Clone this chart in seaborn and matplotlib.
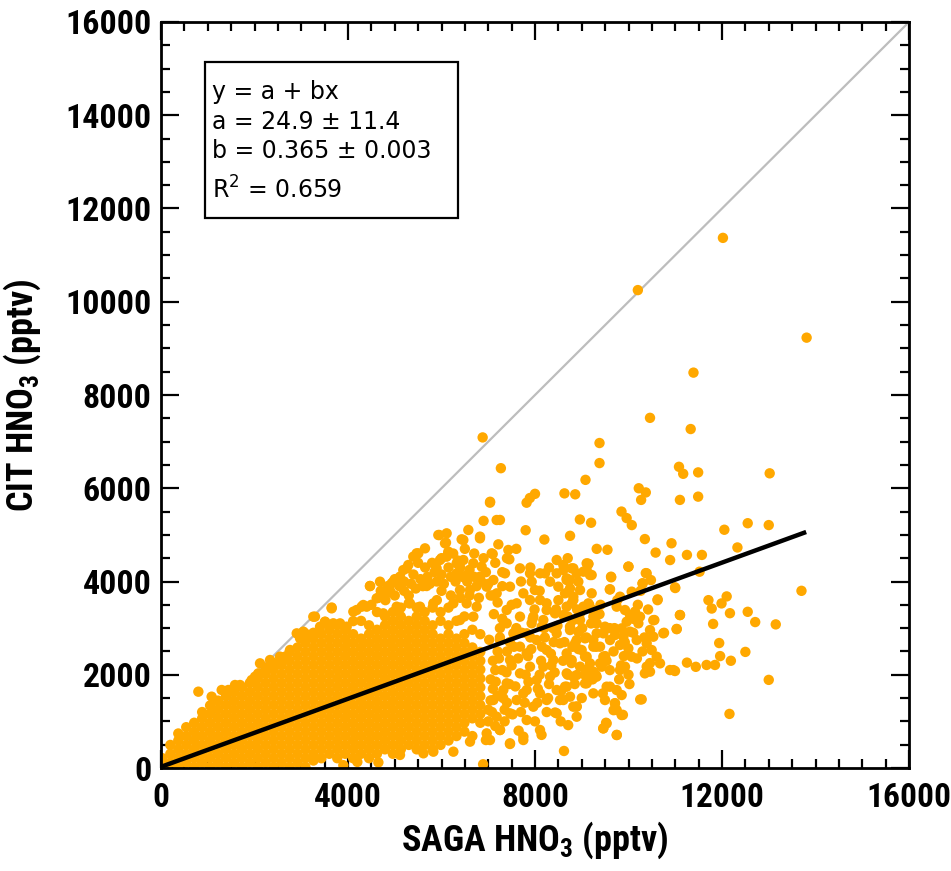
import matplotlib
matplotlib.use("Agg")
import matplotlib.pyplot as plt
from matplotlib import font_manager as fm
from matplotlib.font_manager import FontProperties
from matplotlib.patches import Rectangle
from matplotlib.ticker import MultipleLocator
import numpy as np
import pandas as pd
import seaborn as sns

# ---------------------------------------------------------------- data (pptv)
# densely packed bulk of the comparison: SAGA value -> CIT values
core_columns = [
    (30, [20, 210]),
    (200, [115, 305, 495]),
    (370, [20, 210, 400, 590, 740]),
    (540, [115, 305, 495, 685, 875]),
    (710, [20, 210, 400, 590, 780, 970]),
    (880, [115, 305, 495, 685, 875, 1065, 1200]),
    (1050, [20, 210, 400, 590, 780, 970, 1160, 1340]),
    (1220, [115, 305, 495, 685, 875, 1065, 1255, 1445]),
    (1390, [20, 210, 400, 590, 780, 970, 1160, 1350, 1540]),
    (1560, [115, 305, 495, 685, 875, 1065, 1255, 1445, 1635]),
    (1730, [20, 210, 400, 590, 780, 970, 1160, 1350, 1540, 1730]),
    (1900, [115, 305, 495, 685, 875, 1065, 1255, 1445, 1635, 1825]),
    (2070, [20, 210, 400, 590, 780, 970, 1160, 1350, 1540, 1730, 1920, 2000]),
    (2240, [115, 305, 495, 685, 875, 1065, 1255, 1445, 1635, 1825, 2015, 2150]),
    (2410, [20, 210, 400, 590, 780, 970, 1160, 1350, 1540, 1730, 1920, 2110, 2250]),
    (2580, [115, 305, 495, 685, 875, 1065, 1255, 1445, 1635, 1825, 2015, 2205, 2350]),
    (2750, [20, 210, 400, 590, 780, 970, 1160, 1350, 1540, 1730, 1920, 2110, 2300, 2490]),
    (2920, [115, 305, 495, 685, 875, 1065, 1255, 1445, 1635, 1825, 2015, 2205, 2395, 2585]),
    (3090, [20, 210, 400, 590, 780, 970, 1160, 1350, 1540, 1730, 1920, 2110, 2300, 2490, 2680, 2800]),
    (3260, [160, 305, 495, 685, 875, 1065, 1255, 1445, 1635, 1825, 2015, 2205, 2395, 2585, 2775, 2900]),
    (3430, [210, 400, 590, 780, 970, 1160, 1350, 1540, 1730, 1920, 2110, 2300, 2490, 2680, 2870]),
    (3600, [305, 495, 685, 875, 1065, 1255, 1445, 1635, 1825, 2015, 2205, 2395, 2585, 2775, 2965]),
    (3770, [210, 400, 590, 780, 970, 1160, 1350, 1540, 1730, 1920, 2110, 2300, 2490, 2680, 2870, 3060]),
    (3940, [305, 495, 685, 875, 1065, 1255, 1445, 1635, 1825, 2015, 2205, 2395, 2585, 2775, 2965]),
    (4110, [210, 400, 590, 780, 970, 1160, 1350, 1540, 1730, 1920, 2110, 2300, 2490, 2680, 2870, 3150]),
    (4280, [305, 495, 685, 875, 1065, 1255, 1445, 1635, 1825, 2015, 2205, 2395, 2585, 2775, 3155]),
    (4450, [210, 400, 590, 780, 970, 1160, 1350, 1540, 1730, 1920, 2110, 2300, 2490, 2680, 2870, 3060]),
    (4620, [305, 495, 685, 875, 1065, 1255, 1445, 1635, 1825, 2015, 2205, 2395, 2585, 2775, 2965, 3345]),
    (4790, [400, 590, 780, 970, 1160, 1350, 1540, 1730, 1920, 2110, 2300, 2490, 2680, 2870, 3060, 3250]),
    (4960, [305, 495, 685, 875, 1065, 1255, 1445, 1635, 1825, 2015, 2205, 2395, 2585, 2775, 2965, 3155, 3345]),
    (5130, [400, 590, 780, 970, 1160, 1350, 1540, 1730, 1920, 2110, 2300, 2490, 2680, 2870, 3060, 3250, 3440]),
    (5300, [495, 685, 875, 1065, 1255, 1445, 1635, 1825, 2015, 2205, 2395, 2585, 2775, 2965, 3155, 3535]),
    (5470, [400, 590, 780, 970, 1160, 1350, 1540, 1730, 1920, 2110, 2300, 2490, 2680, 2870, 3060, 3250, 3440]),
    (5640, [495, 685, 875, 1065, 1255, 1445, 1635, 1825, 2015, 2205, 2395, 2585, 2775, 2965, 3155, 3345]),
    (5810, [400, 590, 780, 970, 1160, 1350, 1540, 1730, 1920, 2110, 2300, 2490, 2680, 2870, 3060, 3440]),
    (5980, [495, 685, 875, 1065, 1255, 1445, 1635, 1825, 2015, 2205, 2395, 2585, 2775, 3155, 3345]),
    (6150, [590, 780, 970, 1160, 1350, 1540, 1730, 1920, 2110, 2300, 2490, 2680, 2870, 3060, 3440]),
    (6320, [685, 875, 1065, 1255, 1445, 1635, 1825, 2015, 2205, 2395, 2585, 2775, 3155]),
    (6490, [780, 970, 1160, 1350, 1540, 1730, 1920, 2110, 2300, 2490, 2680, 2870, 3250]),
    (6660, [685, 1065, 1255, 1445, 1635, 1825, 2015, 2205, 2395, 2585, 2965]),
    (6830, [970, 1160, 1350, 1540, 1730, 1920, 2110, 2300, 2490, 2870]),
]

# upper fringe of the bulk
edge_x = [799, 1083, 1298, 1440, 1583, 1690, 1940, 2011, 2082, 2118, 2332, 2403, 2546,
          2652, 2760, 2903, 2974, 3045, 3081, 3258, 3294, 3402, 3508, 3509, 3650, 3651,
          3686, 3830, 3972, 4114, 4185, 4292, 4327, 4399, 4470, 4471, 4613, 4684, 4720,
          4755, 4827, 4934, 4970, 5041, 5112, 5183, 5255, 5290, 5326, 5397, 5468, 5504,
          5540, 5647, 5682, 5825, 5896, 5932, 5953, 5967, 6075, 6096, 6110, 6146]
edge_y = [1637, 1530, 1673, 1673, 1780, 1780, 1887, 1958, 2030, 2245, 2316, 2245, 2388,
          2387, 2531, 2888, 2781, 2924, 2888, 3245, 3246, 3031, 3134, 3138, 3424, 3442,
          3103, 3102, 3031, 3353, 3389, 3460, 3496, 3460, 3903, 3903, 3639, 3996, 3710,
          3317, 3746, 3961, 3996, 3460, 4103, 4246, 4282, 4354, 3531, 4533, 4604, 4604,
          3460, 4711, 3903, 3531, 4282, 4997, 4997, 4461, 4819, 4833, 4533, 4640]

# crowded band above the bulk, 4500-7300 pptv
band_x = [4500, 4650, 4800, 4900, 5000, 5100, 5200, 5350, 5450, 5550, 5600, 5700, 5750,
          5850, 5900, 6000, 6050, 6150, 6200, 6300, 6400, 6450, 6550, 6600, 6700, 6750,
          6850, 6950, 7000, 5200, 5400, 5650, 5800, 6000, 6250, 6500, 6700, 6900, 7150,
          7300, 5000, 4850, 5500, 6350, 6600, 6800, 7050, 7200, 6400, 6200, 6000, 5900,
          5300, 4700]
band_y = [3500, 3650, 3600, 3800, 3700, 3900, 3800, 3950, 3850, 4050, 3900, 4100, 3950,
          4200, 4000, 4150, 3950, 4300, 4100, 4000, 4300, 4100, 4000, 4250, 4100, 3900,
          4000, 4200, 3950, 4000, 4150, 4300, 4400, 4500, 4600, 4700, 4600, 4500, 4400,
          4200, 4050, 3900, 4400, 4450, 3700, 3650, 3700, 3550, 3650, 3700, 3800, 3600,
          3700, 3800]

# thinning cloud 7000-10500 pptv
spread_x = [7080, 7160, 7230, 7320, 7390, 7460, 7520, 7580, 7640, 7720, 7780, 7860, 7920,
            7990, 8060, 8130, 8210, 8280, 8340, 8420, 8480, 8560, 8630, 8700, 8780, 8850,
            8930, 9010, 9090, 9160, 9230, 9310, 9380, 9450, 9530, 9600, 9680, 9760, 9840,
            9920, 10020, 10100, 10180, 10260, 10340, 10420, 7100, 7300, 7500, 7700, 7900,
            8100, 8300, 8500, 8700, 7600, 7400, 7800, 8200, 6900]
spread_y = [1200, 1850, 2350, 1500, 2050, 2700, 1150, 1750, 2350, 2900, 1400, 1850, 2550,
            3400, 1700, 2300, 2800, 1500, 2450, 2050, 3050, 1650, 2700, 3250, 2250, 1800,
            2550, 3000, 2100, 3500, 1900, 2600, 3300, 1600, 2300, 3000, 2500, 3600, 2200,
            2700, 1800, 3200, 2350, 3800, 2800, 3400, 3700, 3900, 3500, 4000, 4300,
            3800, 4300, 3600, 4500, 4700, 4500, 5100, 4900, 5300]

# scattered points in the 6000-11000 pptv range
mid_x = [6110, 6146, 6253, 6324, 6324, 6395, 6395, 6431, 6467, 6467, 6538, 6538, 6574,
         6610, 6681, 6681, 6752, 6823, 6823, 6824, 6859, 6966, 7037, 7073, 7095, 7109,
         7180, 7180, 7216, 7358, 7430, 7451, 7465, 7679, 7751, 7893, 7929, 7996, 8107,
         7893, 7608, 7394, 7679, 7964, 8143, 7822, 7537, 7394, 7251, 7679, 8036, 8250,
         8464, 8428, 8250, 8499, 8677, 8606, 8784, 8891, 9105, 9177, 8107, 8464, 8321,
         7822, 7465, 7893, 8178, 8392, 7679, 8036, 8321, 7394, 7822, 8107, 8464, 7608,
         7964, 8250, 7465, 7822, 8107, 7751, 7465, 7251, 7180, 7109, 7037, 7323, 8677,
         8535, 8464, 8820, 8749, 8891, 8820, 8963, 8677, 8891, 8749, 8963, 8677, 9034,
         9248, 9319, 9248, 9105, 9391, 9319, 9533, 9497, 9248, 9105, 8214, 8463, 8748,
         9105, 9212, 8820, 8249, 8178, 7928, 8392, 8534,
         8606, 8820, 9034, 9212, 9141, 8678, 8927, 8749, 8963, 8642, 8820, 8785, 9141,
         9248, 8606, 8820, 8963, 8749, 8927, 9070, 9248, 8856, 8998, 8785, 9070, 9177,
         9391, 9462, 9319, 9284, 9498, 9605, 9711, 9854, 9961, 10032, 9925, 10139, 10246,
         10211, 10032, 9890, 9818, 9997, 10068, 9925, 9818, 9605, 9626, 9997, 10389,
         10303, 10068, 9818, 9747, 9462, 9426, 9248, 9070, 8892, 8678, 8642, 8606, 8892,
         9070, 9605, 9747, 9854, 9711, 9747, 9854, 9533, 9462, 9747, 10282, 10175, 10460,
         10531, 10389, 10496, 10603, 10674, 10389, 10460, 10745, 10553, 10995, 10624,
         11031, 11102, 10888, 10995,
         7000, 7050, 7100, 7150, 7200, 7300, 7350, 7400, 7020, 7250, 7120,
         6950, 7000, 7050, 7100, 7150, 7200, 7250, 7300, 7350, 7400, 7450, 7500, 7550,
         7600, 7650, 7700, 7750, 7800, 7850, 7900, 7950, 8000, 8050, 8100, 8150, 8200,
         8250, 8300, 8350, 8400, 8450, 8550, 8600, 8700, 8800, 8900, 9000, 9100, 9200,
         9300, 9400, 9500, 9600, 9700, 9800, 9900, 10000, 10100, 10200, 10300]
mid_y = [5033, 4604, 3531, 4390, 4175, 3818, 3174, 4905, 4461, 4890, 4139, 3531, 5105,
         3818, 4390, 3246, 3460, 4103, 4926, 4962, 4318, 3889, 5691, 4604, 4590, 4032,
         5319, 3746, 4797, 4175, 4676, 4476, 3889, 4282, 3746, 3603, 3996, 3818, 3603,
         4175, 3532, 3389, 3246, 3246, 3031, 2888, 2888, 3103, 2745, 2602, 2745, 2531,
         2888, 3317, 3532, 3889, 4032, 4247, 4282, 4175, 4390, 4139, 4175, 4461, 3996,
         2459, 2316, 2173, 2173, 2316, 2030, 1887, 1959, 1816, 1673, 1601, 1673, 1458,
         1315, 1458, 1172, 1029, 815, 672, 529, 815, 1100, 1458, 600, 1673, 1744,
         1458, 1172, 1315, 1530, 1100, 1959, 2173, 2459, 2745, 3031, 3174, 3460, 3460,
         3246, 2888, 2602, 2388, 2245, 1959, 1744, 1458, 1601, 1816, 4175, 4175, 4032,
         4247, 3746, 3603, 3388, 3174, 3103, 2995, 2674,
         4354, 4282, 4211, 4139, 4375, 4068, 3996, 3853, 3817, 3746, 3674, 3531, 3531,
         3388, 3281, 3174, 3317, 2959, 2924, 2781, 2745, 2673, 2530, 2316, 2387, 2244,
         2602, 2888, 3102, 3245, 3031, 2745, 2852, 2995, 3138, 3281, 3388, 3353, 3245,
         3102, 2924, 2816, 2638, 2566, 2387, 2173, 2101, 3832, 4103, 4318, 4175,
         3960, 3782, 3674, 3460, 2387, 2173, 2066, 1994, 1994, 2030, 1744, 1458, 1315,
         1815, 1744, 1672, 1565, 1386, 1243, 1136, 957, 850, 707, 1472, 2745, 2959,
         2816, 2673, 2530, 2387, 2244, 2173, 2066, 2888, 3174, 3875, 3617,
         2981, 3281, 2101, 2080,
         1250, 1900, 2300, 900, 1550, 2100, 1250, 2500, 2750, 3000, 3300,
         600, 1000, 1450, 1700, 2100, 2500, 2800, 3200, 1000, 1400, 1800, 2200, 2600,
         3000, 800, 1200, 1600, 2000, 2400, 2800, 3200, 1000, 1400, 2000, 2600, 3000,
         1200, 1800, 2200, 2700, 3400, 1000, 2300, 2000, 2600, 3400, 1500, 2800, 3100,
         2000, 3500, 2400, 2100, 3000, 1900, 2400, 2000, 2900, 3500, 2500]

# isolated high / far-out samples
far_x = [12020, 10200, 13810, 11390, 10460, 11330, 6880, 9380, 9380, 7270, 11080, 11170,
         11490, 13020, 9080, 10220, 10370, 11490, 11100, 10270, 8630, 8860, 8000, 7890,
         7040, 7820, 7250, 8960, 9200, 8750, 9850, 9960, 10070, 10350, 10920, 10580, 10890,
         11250, 11570, 12050, 12550, 13000, 12330, 9320, 9550, 10000, 9630, 9600, 10370,
         10480, 10300, 11000, 10620, 11100, 10530, 11030, 10760, 11710, 11780, 11990,
         12100, 12170, 11810, 11940, 11960, 12190, 11250, 11440, 11670, 11850, 10960,
         10460, 10350, 10250, 12160, 9750, 9460, 9520, 9880, 9680, 9710, 8890, 8710, 8430,
         13700, 12550, 12710, 13150, 12500, 13000, 11520, 9140]
far_y = [11370, 10250, 9230, 8480, 7510, 7270, 7090, 6970, 6540, 6430, 6460, 6310,
         6340, 6320, 6180, 6000, 5910, 5820, 5750, 5750, 5890, 5870, 5880, 5790,
         5710, 5690, 5320, 5330, 5260, 4980, 5500, 5360, 5210, 4910, 4820, 4620, 4460,
         4570, 4570, 5110, 5250, 5210, 4730, 4700, 4680, 4320, 4090, 3830, 4180,
         4030, 3960, 3860, 3600, 3280, 3170, 2980, 2900, 3600, 3420, 3530,
         3680, 3320, 3090, 2680, 2400, 2300, 2260, 2170, 2210, 2210, 2100,
         2250, 2030, 1470, 1160, 710, 850, 970, 1140, 1240, 1390, 1320, 920, 1190,
         3800, 3350, 3130, 3080, 2490, 1890, 4210, 4380]

# low-ratio samples near the bottom axis
low_x = [3900, 4200, 4650, 5112, 5613, 5826, 6254, 6610, 6890, 6966, 7251, 7465, 7750, 8140, 8620]
low_y = [60, 130, 120, 280, 315, 350, 350, 565, 80, 743, 815, 515, 600, 710, 365]

# linear fit y = a + b x
fit_a, fit_b = 24.9, 0.365
fit_xmax = 13800

box_lines = ["y = a + bx", "a = 24.9 \u00b1 11.4", "b = 0.365 \u00b1 0.003", "R$^{2}$ = 0.659"]

x_ticks = [0, 4000, 8000, 12000, 16000]
y_ticks = [0, 2000, 4000, 6000, 8000, 10000, 12000, 14000, 16000]

# ---------------------------------------------------------------- table
xs, ys = [], []
for cx, cys in core_columns:
    xs += [cx] * len(cys)
    ys += cys
for gx, gy in [(edge_x, edge_y), (band_x, band_y), (spread_x, spread_y), (mid_x, mid_y),
               (far_x, far_y), (low_x, low_y)]:
    xs += list(gx)
    ys += list(gy)
df = pd.DataFrame({"SAGA": xs, "CIT": ys})

# ---------------------------------------------------------------- style
sns.set_style("ticks")
for key in ["text.color", "axes.labelcolor", "xtick.color", "ytick.color", "axes.edgecolor"]:
    plt.rcParams[key] = "black"


def narrow_bold_file():
    """Pick a condensed bold sans face if one is installed."""
    fonts = fm.fontManager.ttflist
    narrow = ("condensed", "semi-condensed", "extra-condensed", "ultra-condensed")

    def is_bold(f):
        w = f.weight
        return (isinstance(w, int) and w >= 600) or (isinstance(w, str) and "bold" in w.lower())

    prefs = ["Liberation Sans Narrow", "Roboto Condensed", "Open Sans Condensed",
             "Noto Sans", "Open Sans", "Roboto", "DejaVu Sans"]
    for name in prefs:
        for f in fonts:
            if f.name == name and is_bold(f) and ("Narrow" in f.name or "Condensed" in f.name
                                                  or f.stretch in narrow):
                return f.fname
    return None


nb = narrow_bold_file()
if nb:
    def bold_prop(size):
        return FontProperties(fname=nb, size=size)
else:
    def bold_prop(size):
        return FontProperties(family="DejaVu Sans", weight="bold", stretch="condensed", size=size)

plt.rcParams["mathtext.fontset"] = "custom"
plt.rcParams["mathtext.default"] = "regular"

fig = plt.figure(figsize=(9.51, 8.71), dpi=100)
ax = fig.add_axes([161 / 951, 1 - 768 / 871, 748 / 951, 746 / 871])

ax.plot([0, 16000], [0, 16000], color="#BDBDBD", lw=1.6, zorder=1)
sns.scatterplot(data=df, x="SAGA", y="CIT", ax=ax, color="#FFA800", s=56,
                edgecolor="none", linewidth=0, zorder=2, legend=False)
fx = np.array([0, fit_xmax])
ax.plot(fx, fit_a + fit_b * fx, color="black", lw=3.2, zorder=3, solid_capstyle="butt")

ax.set_xlim(0, 16000)
ax.set_ylim(0, 16000)
ax.xaxis.set_minor_locator(MultipleLocator(500))
ax.yaxis.set_minor_locator(MultipleLocator(500))
ax.set_xticks(x_ticks)
ax.set_yticks(y_ticks)
ax.set_xticklabels([str(v) for v in x_ticks], fontproperties=bold_prop(24))
ax.set_yticklabels([str(v) for v in y_ticks], fontproperties=bold_prop(24.5))
ax.tick_params(which="both", direction="in", top=True, right=True, width=1.6, color="black")
ax.tick_params(which="major", length=13)
ax.tick_params(which="minor", length=6.5)
ax.tick_params(axis="x", which="major", pad=10)
ax.tick_params(axis="y", which="major", pad=7)
for sp in ax.spines.values():
    sp.set_linewidth(2.0)
    sp.set_color("black")

ax.set_xlabel("SAGA HNO$_3$ (pptv)", fontproperties=bold_prop(26))
ax.set_ylabel("CIT HNO$_3$ (pptv)", fontproperties=bold_prop(26))
ax.xaxis.set_label_coords(0.5, -0.097)
ax.yaxis.set_label_coords(-0.186, 0.5)
ax.xaxis.label.set_va("center")
ax.yaxis.label.set_va("center")

ax.add_patch(Rectangle((0.059, 0.737), 0.338, 0.209, transform=ax.transAxes,
                       fill=True, facecolor="white", edgecolor="black", lw=1.6, zorder=5))
for txt, yy in zip(box_lines, [0.906, 0.866, 0.827, 0.775]):
    ax.text(0.068, yy, txt, transform=ax.transAxes, fontsize=17, family="DejaVu Sans",
            color="black", va="center", ha="left", zorder=6)

fig.savefig("out.png", dpi=100)
